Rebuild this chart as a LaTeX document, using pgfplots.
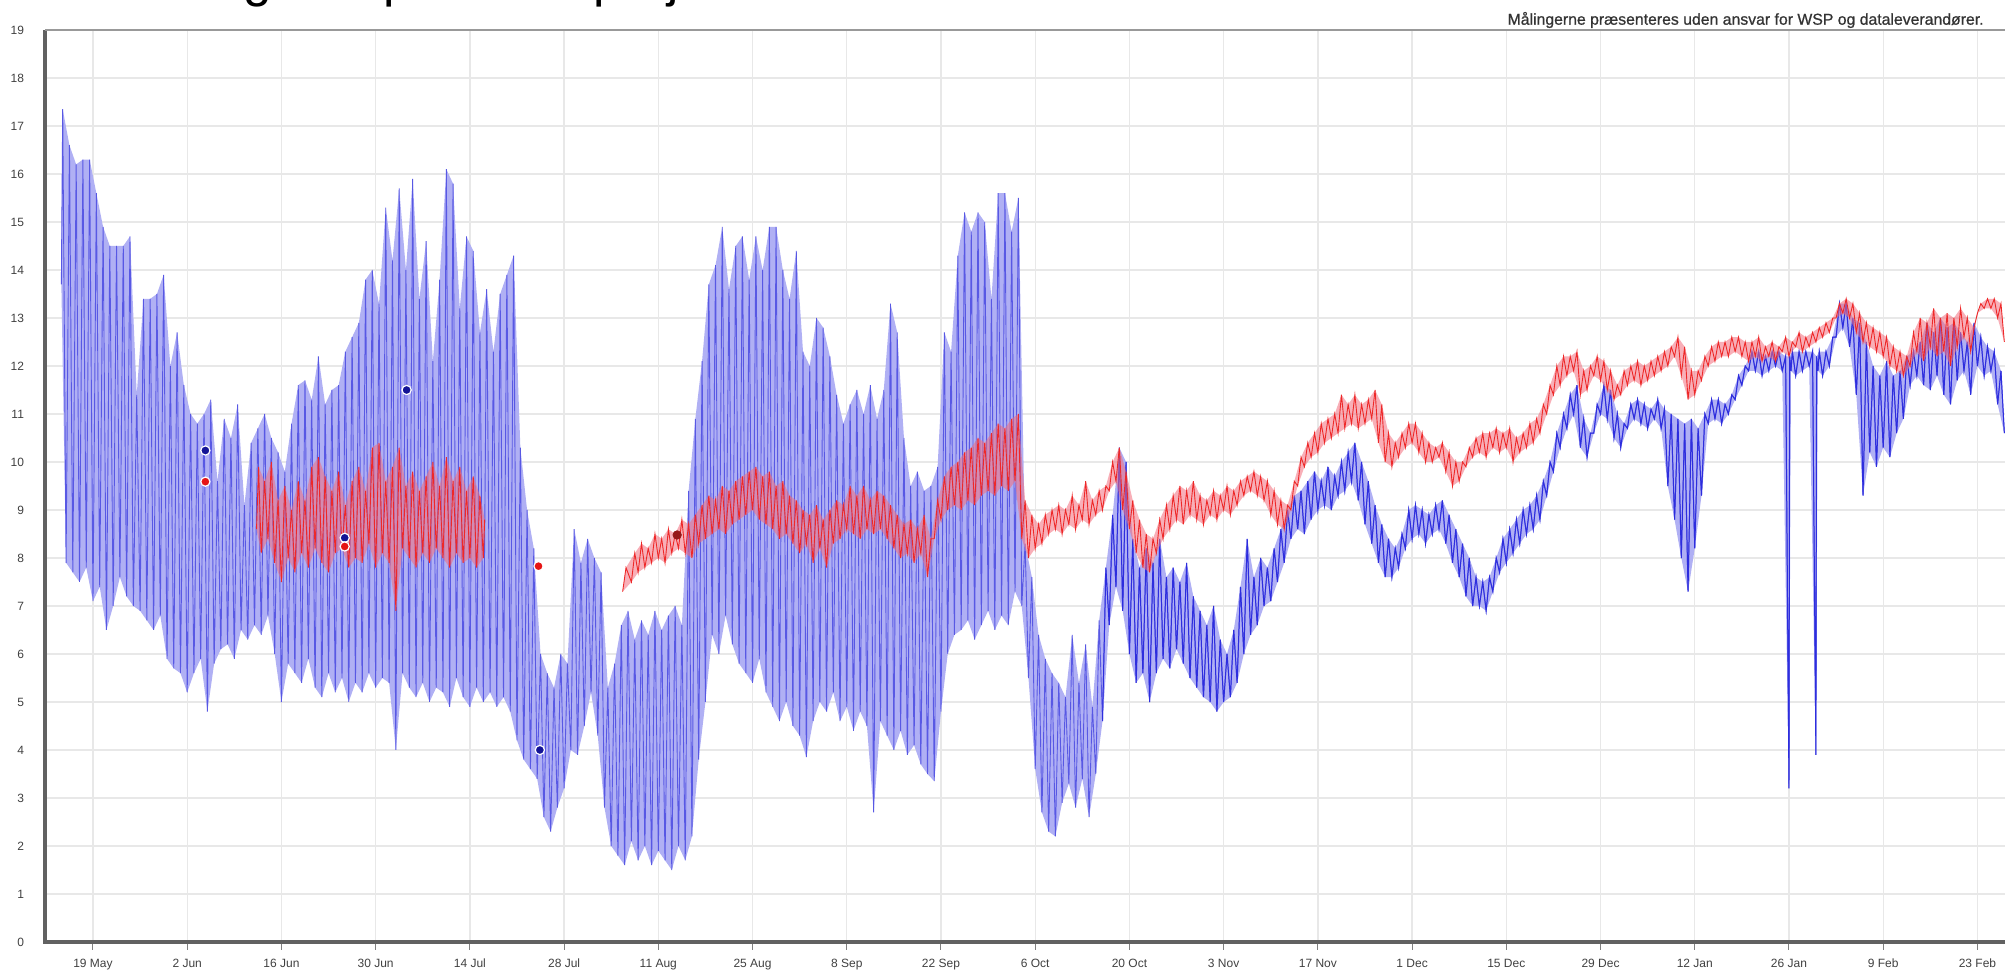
\documentclass[border=0pt]{standalone}
\usepackage{pgfplots}
\pgfplotsset{compat=1.18}
\usepackage{pgfplotstable}
\usepgfplotslibrary{fillbetween}
\usepackage{fontspec}
\setmainfont{Liberation Sans}

\definecolor{bline}{RGB}{88,88,228}
\definecolor{bdark}{RGB}{45,45,222}
\definecolor{bfill}{RGB}{176,176,244}
\definecolor{rline}{RGB}{238,40,40}
\definecolor{rfill}{RGB}{242,110,125}
\definecolor{bdot}{RGB}{20,20,150}
\definecolor{rdot}{RGB}{230,20,20}
\definecolor{drdot}{RGB}{150,25,25}

\pgfplotsset{
  hirows/.style={x filter/.code={\ifodd\coordindex\relax\else\def\pgfmathresult{}\fi}},
  lorows/.style={x filter/.code={\ifodd\coordindex\relax\def\pgfmathresult{}\fi}},
}

% Blue series: alternating daily low / high readings (day 0 = 19 May)
\pgfplotstableread[row sep=\\]{
t v\\
-4.7 13.7\\-4.5 17.35\\-4 7.9\\-3.5 16.6\\-3 7.7\\-2.5 16.2\\-2 7.5\\-1.5 16.3\\-1 7.8\\-0.5 16.3\\
0 7.1\\0.5 15.6\\1 7.4\\1.5 14.9\\2 6.5\\2.5 14.5\\3 7.0\\3.5 14.5\\4 7.6\\4.5 14.5\\
5 7.2\\5.5 14.7\\6 7.0\\6.5 11.4\\7 6.9\\7.5 13.4\\8 6.7\\8.5 13.4\\9 6.5\\9.5 13.5\\
10 6.8\\10.5 13.9\\11 5.9\\11.5 12.0\\12 5.7\\12.5 12.7\\13 5.6\\13.5 11.6\\14 5.2\\14.5 11.0\\
15 5.6\\15.5 10.8\\16 5.9\\16.5 11.0\\17 4.8\\17.5 11.3\\18 5.8\\18.5 9.6\\19 6.1\\19.5 10.9\\
20 6.2\\20.5 10.5\\21 5.9\\21.5 11.2\\22 6.5\\22.5 9.1\\23 6.3\\23.5 10.4\\24 6.6\\24.5 10.7\\
25 6.4\\25.5 11.0\\26 6.8\\26.5 10.5\\27 6.0\\27.5 10.2\\28 5.0\\28.5 9.8\\29 5.8\\29.5 10.8\\
30 5.6\\30.5 11.6\\31 5.4\\31.5 11.7\\32 5.9\\32.5 11.3\\33 5.3\\33.5 12.2\\34 5.1\\34.5 11.2\\
35 5.6\\35.5 11.5\\36 5.2\\36.5 11.6\\37 5.5\\37.5 12.3\\38 5.0\\38.5 12.6\\39 5.4\\39.5 12.9\\
40 5.2\\40.5 13.8\\41 5.6\\41.5 14.0\\42 5.3\\42.5 13.3\\43 5.5\\43.5 15.3\\44 5.4\\44.5 14.2\\
45 4.0\\45.5 15.7\\46 5.6\\46.5 14.0\\47 5.3\\47.5 15.9\\48 5.1\\48.5 13.4\\49 5.4\\49.5 14.6\\
50 5.0\\50.5 12.1\\51 5.3\\51.5 13.8\\52 5.2\\52.5 16.1\\53 4.9\\53.5 15.8\\54 5.5\\54.5 13.2\\
55 5.1\\55.5 14.7\\56 4.9\\56.5 14.4\\57 5.3\\57.5 12.7\\58 5.0\\58.5 13.6\\59 5.2\\59.5 12.3\\
60 4.9\\60.5 13.5\\61 5.1\\61.5 13.9\\62 4.8\\62.5 14.3\\63 4.2\\63.5 10.3\\64 3.8\\64.5 9.0\\
65 3.6\\65.5 8.2\\66 3.4\\66.5 6.0\\67 2.6\\67.5 5.6\\68 2.3\\68.5 5.3\\69 2.8\\69.5 6.0\\
70 3.2\\70.5 5.8\\71 4.0\\71.5 8.6\\72 3.9\\72.5 7.9\\73 4.5\\73.5 8.4\\74 5.2\\74.5 8.0\\
75 4.3\\75.5 7.7\\76 2.8\\76.5 5.3\\77 2.0\\77.5 5.8\\78 1.8\\78.5 6.6\\79 1.6\\79.5 6.9\\
80 2.1\\80.5 6.3\\81 1.7\\81.5 6.7\\82 2.0\\82.5 6.4\\83 1.6\\83.5 6.9\\84 1.9\\84.5 6.5\\
85 1.7\\85.5 6.8\\86 1.5\\86.5 7.0\\87 2.0\\87.5 6.6\\88 1.7\\88.5 9.4\\89 2.2\\89.5 10.9\\
90 3.8\\90.5 12.1\\91 5.0\\91.5 13.7\\92 6.4\\92.5 14.1\\93 6.0\\93.5 14.9\\94 6.8\\94.5 13.6\\
95 6.2\\95.5 14.5\\96 5.8\\96.5 14.7\\97 5.6\\97.5 13.8\\98 5.4\\98.5 14.7\\99 5.9\\99.5 14.0\\
100 5.2\\100.5 14.9\\101 4.9\\101.5 14.9\\102 4.6\\102.5 14.0\\103 5.0\\103.5 13.4\\104 4.5\\104.5 14.4\\
105 4.3\\105.5 12.3\\106 3.85\\106.5 12.0\\107 4.6\\107.5 13.0\\108 5.0\\108.5 12.8\\109 4.8\\109.5 12.2\\
110 5.2\\110.5 11.4\\111 4.6\\111.5 10.8\\112 4.9\\112.5 11.2\\113 4.4\\113.5 11.5\\114 4.8\\114.5 11.0\\
115 4.5\\115.5 11.6\\116 2.7\\116.5 10.9\\117 4.6\\117.5 11.5\\118 4.3\\118.5 13.3\\119 4.0\\119.5 12.7\\
120 4.4\\120.5 10.5\\121 3.9\\121.5 9.5\\122 4.1\\122.5 9.8\\123 3.7\\123.5 9.4\\124 3.5\\124.5 9.5\\
125 3.35\\125.5 9.9\\126 4.8\\126.5 12.7\\127 6.0\\127.5 12.3\\128 6.4\\128.5 14.3\\129 6.5\\129.5 15.2\\
130 6.7\\130.5 14.8\\131 6.3\\131.5 15.2\\132 6.6\\132.5 15.0\\133 6.9\\133.5 13.4\\134 6.5\\134.5 15.6\\
135 6.8\\135.5 15.6\\136 6.6\\136.5 14.8\\137 7.3\\137.5 15.5\\138 7.0\\138.5 8.3\\139 5.5\\139.5 7.6\\
140 3.6\\140.5 6.4\\141 2.7\\141.5 5.9\\142 2.3\\142.5 5.6\\143 2.2\\143.5 5.4\\144 2.9\\144.5 5.1\\
145 3.3\\145.5 6.4\\146 2.8\\146.5 5.4\\147 3.4\\147.5 6.2\\148 2.6\\148.5 4.9\\149 3.5\\149.5 6.7\\
150 4.6\\150.5 7.8\\151 6.6\\151.5 8.9\\152 7.4\\152.5 10.3\\153 6.9\\153.5 10.0\\154 6.0\\154.5 8.4\\
155 5.4\\155.5 7.8\\156 5.6\\156.5 8.2\\157 5.0\\157.5 7.9\\158 5.6\\158.5 8.4\\159 5.9\\159.5 7.6\\
160 5.7\\160.5 7.8\\161 6.1\\161.5 7.5\\162 5.8\\162.5 7.9\\163 5.5\\163.5 7.2\\164 5.3\\164.5 6.9\\
165 5.1\\165.5 6.6\\166 5.0\\166.5 7.0\\167 4.8\\167.5 6.3\\168 5.0\\168.5 6.0\\169 5.1\\169.5 6.5\\
170 5.4\\170.5 7.4\\171 6.0\\171.5 8.4\\172 6.4\\172.5 7.6\\173 6.6\\173.5 8.0\\174 7.0\\174.5 7.8\\
175 7.1\\175.5 8.2\\176 7.5\\176.5 8.6\\177 7.9\\177.5 9.0\\178 8.4\\178.5 9.3\\179 8.6\\179.5 9.4\\
180 8.5\\180.5 9.6\\181 8.8\\181.5 9.8\\182 9.0\\182.5 9.6\\183 9.1\\183.5 9.9\\184 9.0\\184.5 9.7\\
185 9.3\\185.5 10.0\\186 9.4\\186.5 10.2\\187 9.6\\187.5 10.4\\188 9.2\\188.5 10.0\\189 8.7\\189.5 9.6\\
190 8.3\\190.5 9.1\\191 7.9\\191.5 8.7\\192 7.6\\192.5 8.4\\193 7.6\\193.5 8.2\\194 7.8\\194.5 8.5\\
195 8.2\\195.5 9.0\\196 8.4\\196.5 9.1\\197 8.5\\197.5 9.0\\198 8.3\\198.5 8.9\\199 8.5\\199.5 9.1\\
200 8.6\\200.5 9.2\\201 8.3\\201.5 8.9\\202 7.9\\202.5 8.6\\203 7.6\\203.5 8.3\\204 7.2\\204.5 8.0\\
205 7.0\\205.5 7.6\\206 7.0\\206.5 7.5\\207 6.9\\207.5 7.6\\208 7.3\\208.5 8.0\\209 7.7\\209.5 8.4\\
210 7.9\\210.5 8.6\\211 8.1\\211.5 8.8\\212 8.3\\212.5 9.0\\213 8.5\\213.5 9.1\\214 8.6\\214.5 9.3\\
215 8.8\\215.5 9.6\\216 9.3\\216.5 10.0\\217 9.8\\217.5 10.6\\218 10.3\\218.5 11.0\\219 10.7\\219.5 11.4\\
220 11.0\\220.5 11.6\\221 10.3\\221.5 10.9\\222 10.1\\222.5 10.6\\223 10.6\\223.5 11.2\\224 11.0\\224.5 11.6\\
225 10.9\\225.5 11.5\\226 10.5\\226.5 11.0\\227 10.3\\227.5 10.8\\228 10.7\\228.5 11.2\\229 10.9\\229.5 11.3\\
230 10.8\\230.5 11.2\\231 10.7\\231.5 11.1\\232 10.9\\232.5 11.3\\233 10.7\\233.5 11.1\\234 9.5\\234.5 11.0\\
235 8.8\\235.5 10.9\\236 8.0\\236.5 10.8\\237 7.3\\237.5 10.9\\238 8.2\\238.5 10.7\\239 9.3\\239.5 11.0\\
240 10.8\\240.5 11.3\\241 10.9\\241.5 11.3\\242 10.8\\242.5 11.2\\243 11.0\\243.5 11.4\\244 11.3\\244.5 11.8\\
245 11.6\\245.5 12.0\\246 11.9\\246.5 12.3\\247 11.9\\247.5 12.3\\248 11.8\\248.5 12.2\\249 11.9\\249.5 12.3\\
250 12.0\\250.5 12.3\\251 11.9\\251.5 12.2\\252 3.2\\252.1 12.2\\252.3 11.9\\252.5 12.3\\253 11.8\\253.5 12.3\\
254 11.9\\254.5 12.3\\255 12.0\\255.5 12.3\\256 3.9\\256.1 12.2\\256.3 11.9\\256.5 12.3\\257 11.8\\257.5 12.3\\
258 12.0\\258.5 12.6\\259 12.6\\259.5 13.3\\260 12.8\\260.5 13.3\\261 12.4\\261.5 13.0\\262 11.4\\262.5 12.9\\
263 9.3\\263.5 12.5\\264 10.2\\264.5 12.0\\265 9.9\\265.5 11.8\\266 10.3\\266.5 12.1\\267 10.1\\267.5 11.8\\
268 10.6\\268.5 11.9\\269 10.9\\269.5 12.2\\270 11.6\\270.5 12.3\\271 11.8\\271.5 12.5\\272 11.6\\272.5 12.9\\
273 11.5\\273.5 12.7\\274 11.8\\274.5 13.0\\275 11.4\\275.5 12.8\\276 11.2\\276.5 12.9\\277 11.7\\277.5 12.7\\
278 11.9\\278.5 12.5\\279 11.4\\279.5 12.9\\280 12.0\\280.5 12.6\\281 11.8\\281.5 12.4\\282 11.9\\282.5 12.3\\
283 11.2\\283.5 11.9\\284 10.6\\
}\bluetab

% Red series, June-July segment
\pgfplotstableread[row sep=\\]{
t v\\
24.3 8.6\\24.6 9.9\\25 8.1\\25.5 9.6\\26 8.4\\26.5 10.0\\27 7.9\\27.5 9.2\\28 7.5\\28.5 9.5\\
29 8.0\\29.5 9.0\\30 7.7\\30.5 9.6\\31 8.1\\31.5 9.2\\32 7.8\\32.5 9.9\\33 8.2\\33.5 10.1\\
34 7.9\\34.5 9.7\\35 7.7\\35.5 9.4\\36 8.1\\36.5 9.8\\37 8.2\\37.5 9.1\\38 7.8\\38.5 9.6\\
39 8.0\\39.5 9.9\\40 7.9\\40.5 9.4\\41 8.3\\41.5 10.3\\42 7.8\\42.5 10.4\\43 8.1\\43.5 9.6\\
44 7.9\\44.5 9.9\\45 6.9\\45.5 10.3\\46 8.2\\46.5 9.5\\47 8.0\\47.5 9.8\\48 7.8\\48.5 9.4\\
49 8.1\\49.5 9.7\\50 7.9\\50.5 10.0\\51 8.2\\51.5 9.5\\52 8.0\\52.5 10.1\\53 7.8\\53.5 9.6\\
54 8.1\\54.5 9.9\\55 7.9\\55.5 9.4\\56 8.0\\56.5 9.7\\57 7.8\\57.5 9.3\\58 8.0\\58.2 8.8\\
}\redAtab

% Red series, August - February segment
\pgfplotstableread[row sep=\\]{
t v\\
78.7 7.3\\79.2 7.8\\80 7.5\\80.5 8.1\\81 7.7\\81.5 8.3\\82 7.8\\82.5 8.2\\83 7.9\\83.5 8.5\\
84 8.0\\84.5 8.4\\85 7.9\\85.5 8.6\\86 8.1\\86.5 8.5\\87 8.2\\87.5 8.8\\88 8.1\\88.5 8.7\\
89 8.0\\89.5 8.9\\90 8.3\\90.5 9.1\\91 8.4\\91.5 9.3\\92 8.5\\92.5 9.2\\93 8.6\\93.5 9.5\\
94 8.5\\94.5 9.4\\95 8.7\\95.5 9.6\\96 8.8\\96.5 9.7\\97 8.9\\97.5 9.8\\98 9.0\\98.5 9.9\\
99 8.8\\99.5 9.7\\100 8.7\\100.5 9.8\\101 8.6\\101.5 9.5\\102 8.4\\102.5 9.6\\103 8.5\\103.5 9.3\\
104 8.3\\104.5 9.2\\105 8.1\\105.5 9.0\\106 8.3\\106.5 8.9\\107 7.9\\107.5 9.1\\108 8.2\\108.5 8.8\\
109 7.8\\109.5 9.0\\110 8.3\\110.5 9.2\\111 8.4\\111.5 9.1\\112 8.6\\112.5 9.5\\113 8.5\\113.5 9.3\\
114 8.4\\114.5 9.5\\115 8.6\\115.5 9.2\\116 8.5\\116.5 9.4\\117 8.6\\117.5 9.3\\118 8.4\\118.5 9.1\\
119 8.2\\119.5 8.9\\120 8.0\\120.5 8.7\\121 8.1\\121.5 8.8\\122 7.9\\122.5 8.6\\123 8.1\\123.5 8.9\\
124 7.6\\124.5 8.4\\125 8.4\\125.5 9.2\\126 8.8\\126.5 9.7\\127 9.0\\127.5 9.9\\128 9.1\\128.5 10.0\\
129 9.0\\129.5 10.2\\130 9.2\\130.5 10.3\\131 9.1\\131.5 10.5\\132 9.3\\132.5 10.4\\133 9.4\\133.5 10.6\\
134 9.3\\134.5 10.8\\135 9.5\\135.5 10.7\\136 9.4\\136.5 10.9\\137 9.6\\137.5 11.0\\138 8.4\\138.5 9.2\\
139 8.0\\139.5 8.9\\140 8.2\\140.5 8.7\\141 8.3\\141.5 8.9\\142 8.5\\142.5 9.0\\143 8.6\\143.5 9.1\\
144 8.5\\144.5 9.0\\145 8.7\\145.5 9.3\\146 8.6\\146.5 9.1\\147 8.8\\147.5 9.6\\148 8.7\\148.5 9.2\\
149 8.9\\149.5 9.4\\150 9.0\\150.5 9.5\\151 9.4\\151.5 10.0\\152 9.6\\152.5 10.3\\153 9.0\\153.5 9.8\\
154 8.6\\154.5 9.2\\155 8.1\\155.5 8.8\\156 7.8\\156.5 8.5\\157 7.7\\157.5 8.4\\158 8.1\\158.5 8.8\\
159 8.4\\159.5 9.1\\160 8.6\\160.5 9.3\\161 8.8\\161.5 9.5\\162 8.7\\162.5 9.4\\163 8.9\\163.5 9.6\\
164 8.8\\164.5 9.3\\165 8.7\\165.5 9.2\\166 8.9\\166.5 9.4\\167 8.8\\167.5 9.3\\168 9.0\\168.5 9.5\\
169 8.9\\169.5 9.4\\170 9.1\\170.5 9.6\\171 9.3\\171.5 9.7\\172 9.4\\172.5 9.8\\173 9.3\\173.5 9.7\\
174 9.2\\174.5 9.6\\175 8.9\\175.5 9.4\\176 8.7\\176.5 9.2\\177 8.6\\177.5 9.1\\178 9.0\\178.5 9.6\\
179 9.5\\179.5 10.1\\180 9.9\\180.5 10.4\\181 10.1\\181.5 10.6\\182 10.2\\182.5 10.8\\183 10.4\\183.5 10.9\\
184 10.5\\184.5 11.0\\185 10.6\\185.5 11.4\\186 10.7\\186.5 11.2\\187 10.8\\187.5 11.4\\188 10.7\\188.5 11.2\\
189 10.8\\189.5 11.3\\190 10.9\\190.5 11.5\\191 10.4\\191.5 11.2\\192 10.0\\192.5 10.6\\193 9.9\\193.5 10.4\\
194 10.1\\194.5 10.6\\195 10.3\\195.5 10.8\\196 10.4\\196.5 10.8\\197 10.2\\197.5 10.6\\198 10.0\\198.5 10.4\\
199 10.0\\199.5 10.3\\200 10.1\\200.5 10.4\\201 9.8\\201.5 10.2\\202 9.5\\202.5 10.0\\203 9.6\\203.5 10.0\\
204 9.9\\204.5 10.3\\205 10.1\\205.5 10.5\\206 10.2\\206.5 10.6\\207 10.1\\207.5 10.6\\208 10.3\\208.5 10.7\\
209 10.2\\209.5 10.6\\210 10.3\\210.5 10.7\\211 10.0\\211.5 10.5\\212 10.2\\212.5 10.6\\213 10.3\\213.5 10.8\\
214 10.4\\214.5 10.9\\215 10.6\\215.5 11.2\\216 11.0\\216.5 11.6\\217 11.4\\217.5 12.0\\218 11.6\\218.5 12.2\\
219 11.8\\219.5 12.2\\220 11.9\\220.5 12.3\\221 11.4\\221.5 11.9\\222 11.5\\222.5 12.0\\223 11.8\\223.5 12.2\\
224 11.7\\224.5 12.1\\225 11.5\\225.5 11.9\\226 11.3\\226.5 11.6\\227 11.4\\227.5 11.9\\228 11.6\\228.5 12.0\\
229 11.7\\229.5 12.1\\230 11.6\\230.5 12.0\\231 11.7\\231.5 12.1\\232 11.8\\232.5 12.2\\233 11.9\\233.5 12.3\\
234 12.0\\234.5 12.4\\235 12.2\\235.5 12.6\\236 11.8\\236.5 12.4\\237 11.3\\237.5 11.9\\238 11.4\\238.5 11.9\\
239 11.7\\239.5 12.2\\240 12.0\\240.5 12.4\\241 12.1\\241.5 12.5\\242 12.2\\242.5 12.5\\243 12.2\\243.5 12.6\\
244 12.3\\244.5 12.6\\245 12.2\\245.5 12.5\\246 12.1\\246.5 12.5\\247 12.2\\247.5 12.6\\248 12.1\\248.5 12.4\\
249 12.2\\249.5 12.5\\250 12.1\\250.5 12.4\\251 12.3\\251.5 12.6\\252 12.2\\252.5 12.5\\253 12.4\\253.5 12.7\\
254 12.3\\254.5 12.6\\255 12.4\\255.5 12.7\\256 12.5\\256.5 12.8\\257 12.6\\257.5 12.9\\258 12.7\\258.5 13.0\\
259 13.0\\259.5 13.3\\260 13.1\\260.5 13.4\\261 13.0\\261.5 13.3\\262 12.7\\262.5 13.1\\263 12.5\\263.5 12.9\\
264 12.4\\264.5 12.8\\265 12.3\\265.5 12.7\\266 12.2\\266.5 12.6\\267 12.0\\267.5 12.4\\268 11.9\\268.5 12.3\\
269 11.8\\269.5 12.2\\270 12.0\\270.5 12.7\\271 12.3\\271.5 13.0\\272 12.1\\272.5 12.9\\273 12.4\\273.5 13.2\\
274 12.2\\274.5 13.0\\275 12.3\\275.5 13.1\\276 12.0\\276.5 13.0\\277 12.4\\277.5 13.2\\278 12.6\\278.5 13.0\\
279 12.3\\279.5 12.8\\280 13.1\\280.5 13.3\\281 13.2\\281.5 13.4\\282 13.2\\282.5 13.4\\283 13.0\\283.5 13.3\\
284 12.5\\
}\redBtab

\begin{document}
\begin{tikzpicture}
% cut-off title at the very top
\node[anchor=base west, inner sep=0pt, font=\fontsize{25.6}{28}\selectfont] at (-69pt,488pt)
  {Temperaturmåling ved punkt 12 projekt};
\node[anchor=east, inner sep=0pt, font=\fontsize{7.9}{9}\selectfont\addfontfeatures{FakeBold=0.8}, text=black!80] at (992pt,476.5pt)
  {Målingerne præsenteres uden ansvar for WSP og dataleverandører.};
\begin{axis}[
  name=ax,
  at={(22.5pt,15.5pt)}, anchor=south west,
  scale only axis, width=980.5pt, height=456pt,
  xmin=-7.13, xmax=284.25, ymin=0, ymax=19,
  axis line style={draw=none},
  xtick={0,14,...,280},
  xticklabels={19 May,2 Jun,16 Jun,30 Jun,14 Jul,28 Jul,11 Aug,25 Aug,8 Sep,22 Sep,6 Oct,20 Oct,3 Nov,17 Nov,1 Dec,15 Dec,29 Dec,12 Jan,26 Jan,9 Feb,23 Feb},
  ytick={0,1,...,19},
  grid=major,
  grid style={draw=black!9, line width=0.7pt},
  xtick pos=left,
  tick align=outside,
  major tick length=4pt,
  x tick style={draw=black!50, line width=0.5pt},
  y tick style={draw=none},
  /pgf/number format/assume math mode=true,
  ticklabel style={font=\fontsize{6}{7}\selectfont, text=black!75},
  xticklabel style={yshift=-1pt},
  yticklabel style={xshift=-3pt},
  filter discard warning=false,
  set layers,
  fill between/on layer=main,
]
% blue
\addplot[name path=bhi, draw=none, hirows] table[x=t, y=v] {\bluetab};
\addplot[name path=blo, draw=none, lorows] table[x=t, y=v] {\bluetab};
\addplot[fill=bfill, draw=none] fill between[of=bhi and blo];
\addplot[bline, line width=0.45pt] table[x=t, y=v] {\bluetab};
\addplot[bdark, line width=0.5pt, restrict x to domain=150:290] table[x=t, y=v] {\bluetab};
% red, June-July
\addplot[name path=rahi, draw=none, hirows] table[x=t, y=v] {\redAtab};
\addplot[name path=ralo, draw=none, lorows] table[x=t, y=v] {\redAtab};
\addplot[fill=rfill, fill opacity=0.55, draw=none] fill between[of=rahi and ralo];
\addplot[rline, line width=0.45pt] table[x=t, y=v] {\redAtab};
% red, August-February
\addplot[name path=rbhi, draw=none, hirows] table[x=t, y=v] {\redBtab};
\addplot[name path=rblo, draw=none, lorows] table[x=t, y=v] {\redBtab};
\addplot[fill=rfill, fill opacity=0.55, draw=none] fill between[of=rbhi and rblo];
\addplot[rline, line width=0.45pt] table[x=t, y=v] {\redBtab};
% single readings
\addplot[only marks, mark=*, mark size=2.3pt, mark options={fill=bdot, draw=white, line width=0.6pt}]
  coordinates {(16.7,10.24) (37.4,8.42) (46.6,11.5) (66.4,4.0)};
\addplot[only marks, mark=*, mark size=2.3pt, mark options={fill=rdot, draw=white, line width=0.6pt}]
  coordinates {(16.7,9.59) (37.4,8.24) (66.2,7.83)};
\addplot[only marks, mark=*, mark size=2.1pt, mark options={fill=drdot, draw=drdot}]
  coordinates {(86.8,8.48)};
\end{axis}
\draw[black!62, line width=1.7pt] (ax.north west) -- (ax.south west) -- (ax.south east);
\draw[black!40, line width=1.4pt] (ax.north west) -- (ax.north east);
\pgfresetboundingbox
\useasboundingbox (0,0) rectangle (1002.5pt,486.5pt);
\end{tikzpicture}
\end{document}
